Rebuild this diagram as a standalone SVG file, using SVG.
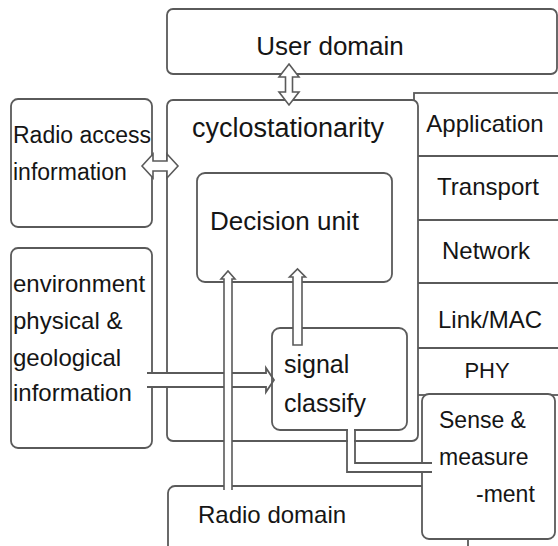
<svg xmlns="http://www.w3.org/2000/svg" width="558" height="546" viewBox="0 0 558 546">
<style>
.box{fill:#fff;stroke:#5a5a5a;stroke-width:1.8}
.lay{fill:none;stroke:#5a5a5a;stroke-width:1.8}
.t{font-family:"Liberation Sans",Arial,sans-serif;fill:#151515}
.arr{fill:#fff;stroke:#5a5a5a;stroke-width:1.6;stroke-linejoin:miter}
</style>
<rect width="558" height="546" fill="#fff"/>
<g id="user-domain">
<rect class="box" x="167" y="9" width="390" height="65" rx="6"/>
<text class="t" x="330" y="55" font-size="26" text-anchor="middle">User domain</text>
</g>
<g id="layers">
<rect class="box" x="414" y="93" width="160" height="302" rx="0"/>
<line class="lay" x1="414" y1="156" x2="558" y2="156"/>
<line class="lay" x1="414" y1="220" x2="558" y2="220"/>
<line class="lay" x1="414" y1="283" x2="558" y2="283"/>
<line class="lay" x1="414" y1="348" x2="558" y2="348"/>
<text class="t" x="485" y="132" font-size="24" text-anchor="middle">Application</text>
<text class="t" x="488" y="195" font-size="24" text-anchor="middle">Transport</text>
<text class="t" x="486" y="259" font-size="24" text-anchor="middle">Network</text>
<text class="t" x="490" y="328" font-size="24" text-anchor="middle">Link/MAC</text>
<text class="t" x="487" y="378" font-size="22" text-anchor="middle">PHY</text>
</g>
<g id="cyclostationarity">
<rect class="box" x="167" y="100" width="251" height="341" rx="6"/>
<text class="t" x="192" y="137" font-size="27">cyclostationarity</text>
</g>
<g id="radio-access">
<rect class="box" x="11" y="99" width="141" height="128" rx="7"/>
<text class="t" x="13" y="143" font-size="23">Radio access</text>
<text class="t" x="13" y="180" font-size="23">information</text>
</g>
<g id="environment">
<rect class="box" x="11" y="248" width="141" height="200" rx="7"/>
<text class="t" x="13" y="292" font-size="24">environment</text>
<text class="t" x="13" y="329" font-size="24">physical &amp;</text>
<text class="t" x="13" y="366" font-size="24">geological</text>
<text class="t" x="13" y="401" font-size="24">information</text>
</g>
<g id="decision-unit">
<rect class="box" x="197" y="173" width="195" height="109" rx="8"/>
<text class="t" x="210" y="230" font-size="26">Decision unit</text>
</g>
<g id="signal-classify">
<rect class="box" x="272" y="328" width="135" height="102" rx="8"/>
<text class="t" x="284" y="373" font-size="25">signal</text>
<text class="t" x="284" y="412" font-size="25">classify</text>
</g>
<g id="radio-domain">
<rect class="box" x="168" y="486" width="300" height="80" rx="7"/>
<text class="t" x="198" y="523" font-size="24">Radio domain</text>
</g>
<g id="sense-measurement">
<rect class="box" x="422" y="394" width="133" height="145" rx="7"/>
<text class="t" x="439" y="428" font-size="23">Sense &amp;</text>
<text class="t" x="439" y="465" font-size="23">measure</text>
<text class="t" x="476" y="502" font-size="23">-ment</text>
</g>
<g id="connectors">
<polygon class="arr" points="289,64 299,77 292.5,77 292.5,92 299,92 289,105 279,92 285.5,92 285.5,77 279,77"/>
<polygon class="arr" points="142,166 153,154 153,161 167,161 167,154 178,166 167,178 167,171 153,171 153,178"/>
<rect x="151" y="374" width="116" height="12" fill="#fff"/>
<path class="lay" stroke-width="1.6" d="M147,373 H266 V368 L274,380 L266,392 V387 H147"/>
<path class="arr" d="M224,490 V279 H221 L228,271 L235,279 H232 V490"/>
<polygon class="arr" points="293,345 293,277 289.5,277 297.5,269 305.5,277 302,277 302,345"/>
<rect x="348" y="428" width="6" height="36" fill="#fff"/>
<rect x="348" y="464" width="86" height="7" fill="#fff"/>
<path class="lay" stroke-width="1.6" d="M347,430 V472 H432 M355,430 V463 H432"/>
</g>
</svg>
